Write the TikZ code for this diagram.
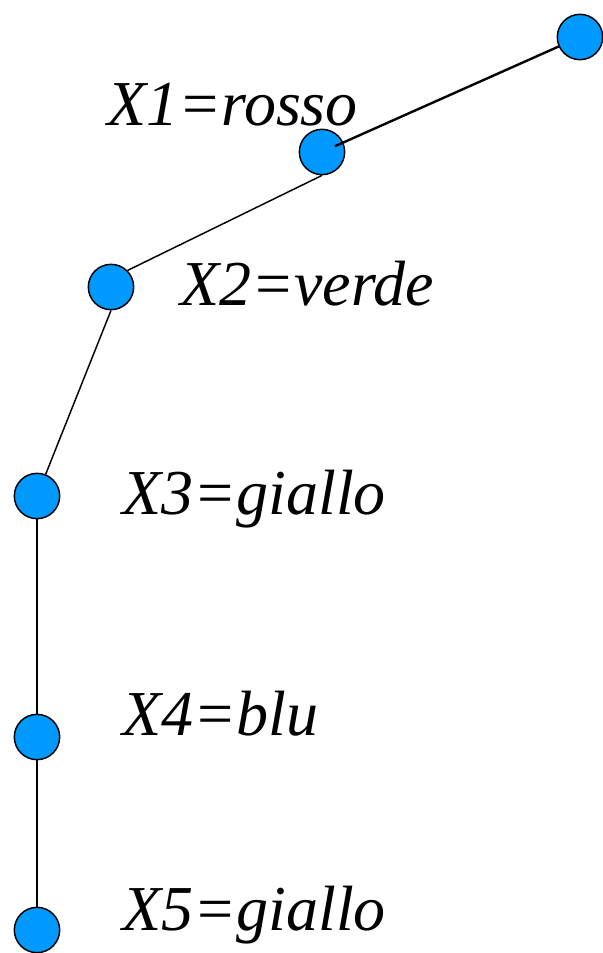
\documentclass[tikz,border=0pt]{standalone}
\usepackage{fontspec}
\setmainfont{Liberation Serif}
\usepackage{tikz}
\definecolor{dotblue}{RGB}{0,153,255}

\begin{document}
\begin{tikzpicture}[
    x=0.75pt, y=-0.75pt,
    dot/.style={circle,draw,line width=1.1pt,fill=dotblue,
        minimum size=34pt,inner sep=0pt},
    lab/.style={anchor=base west,inner sep=0pt,
        font=\fontsize{48}{50}\selectfont\itshape},
    link/.style={line width=1.1pt},
    thicklink/.style={line width=1.8pt}
]
\useasboundingbox (0,0) rectangle (603,953);
\node[dot] (n0) at (580,37) {};
\node[dot] (n1) at (322,152) {};
\node[dot] (n2) at (111,287) {};
\node[dot] (n3) at (37,496) {};
\node[dot] (n4) at (37,737) {};
\node[dot] (n5) at (37,930) {};
\node[lab] (l1) at (107,125) {X1=rosso};
\node[lab] (l2) at (180,305) {X2=verde};
\node[lab] (l3) at (122,514) {X3=giallo};
\node[lab] (l4) at (122,735) {X4=blu};
\node[lab] (l5) at (122,930) {X5=giallo};
\draw[thicklink,shorten >=10.5pt] (n0) -- (n1.center);
\draw[link] (n1.south) -- (n2.north east);
\draw[link] (n2.south) -- (n3);
\draw[link] (n3) -- (n4);
\draw[link] (n4) -- (n5);
\end{tikzpicture}
\end{document}
